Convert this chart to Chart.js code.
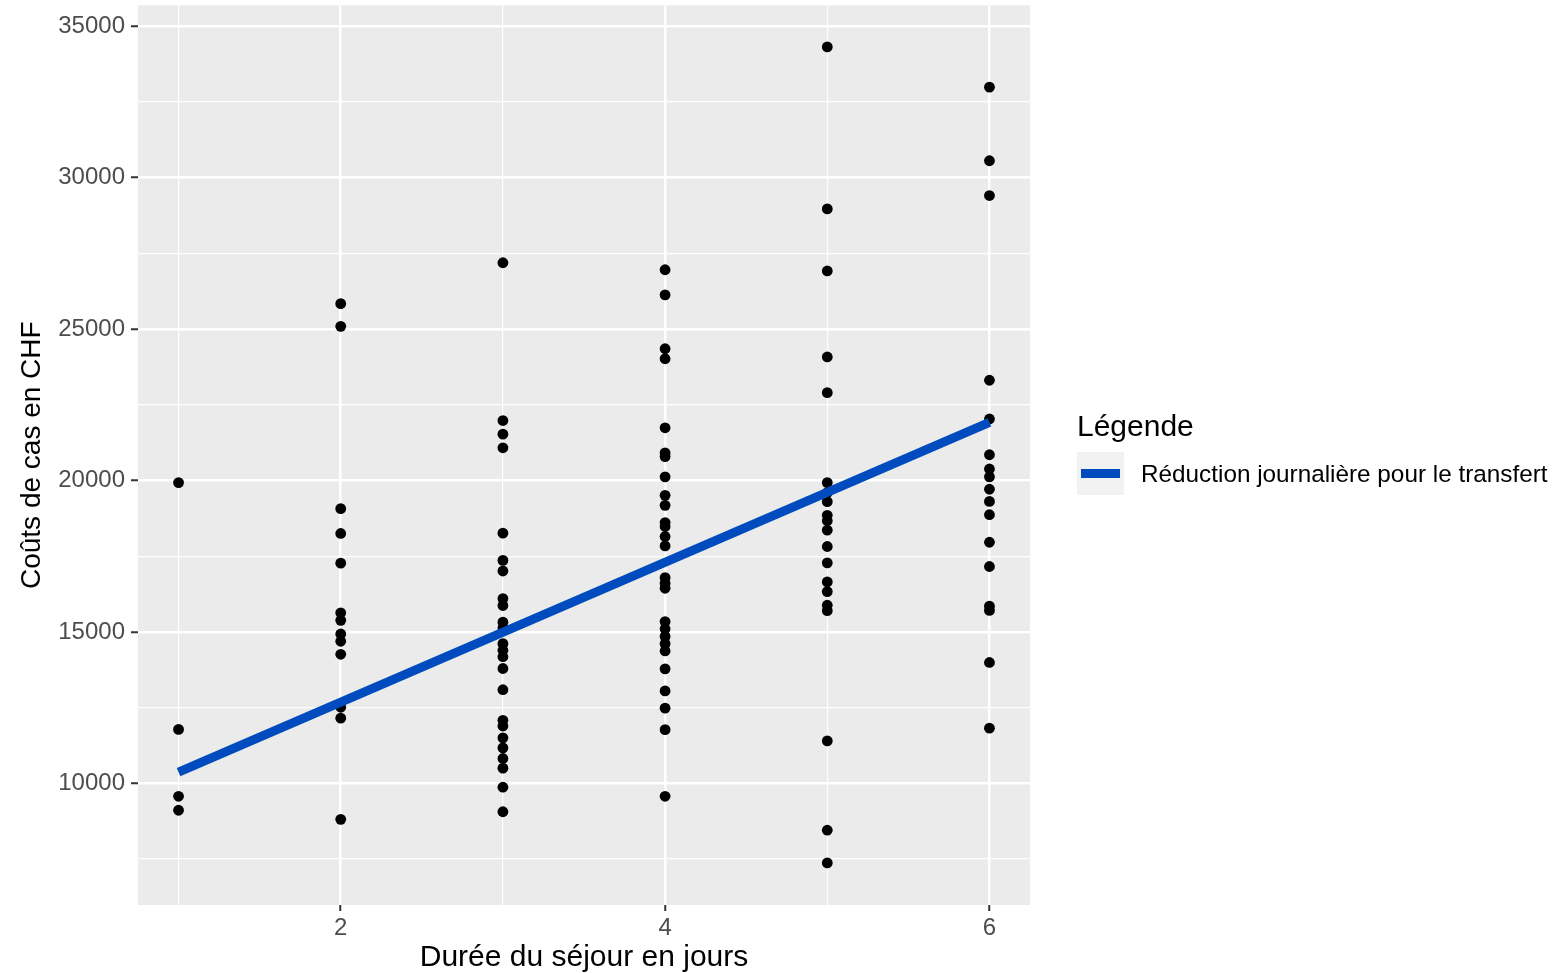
<!DOCTYPE html>
<html>
<head>
<meta charset="utf-8">
<script src="https://cdn.jsdelivr.net/npm/chart.js@4"></script>
<style>
  html, body { margin: 0; padding: 0; background: #fff; }
  #wrap { position: relative; width: 1554px; height: 973px; }
  #legend { position: absolute; left: 1077px; top: 408px; font-family: "Liberation Sans", Arial, sans-serif; color: #000; }
  #legend .title { font-size: 30px; line-height: 36px; position: absolute; left: 0; top: 0; white-space: nowrap; }
  #legend .key { position: absolute; left: 0; top: 44px; width: 47px; height: 43px; background: #f2f2f2; }
  #legend .key span { position: absolute; left: 4px; top: 17px; width: 39px; height: 9px; background: #004cbf; }
  #legend .label { position: absolute; left: 64px; top: 52px; font-size: 24.3px; line-height: 28px; white-space: nowrap; }
</style>
</head>
<body>
<div id="wrap">
  <canvas id="mycanvas" width="1554" height="973"></canvas>
  <div id="legend">
    <div class="title">Légende</div>
    <div class="key"><span></span></div>
    <div class="label">Réduction journalière pour le transfert</div>
  </div>
</div>
<script>
// coûts par durée de séjour (jours 1..6)
var durations = [1, 2, 3, 4, 5, 6];
var cost1 = [19930, 11780, 9570, 9110];
var cost2 = [25840, 25090, 19070, 18250, 17270, 15630, 15380, 14930, 14690, 14260, 12510, 12150, 8810];
var cost3 = [27190, 21980, 21530, 21080, 18260, 17360, 17010, 16100, 15870, 15320, 15130, 14610, 14390, 14180, 13790, 13090, 12080, 11890, 11500, 11170, 10820, 10500, 9870, 9060];
var cost4 = [26960, 26130, 24350, 24020, 21740, 20910, 20790, 20120, 19510, 19180, 18610, 18480, 18150, 17840, 16790, 16600, 16440, 15340, 15100, 14850, 14610, 14370, 13780, 13050, 12480, 11770, 9570];
var cost5 = [34320, 28970, 26920, 24080, 22900, 19930, 19600, 19300, 18850, 18670, 18360, 17820, 17280, 16650, 16330, 15880, 15700, 11400, 8450, 7370];
var cost6 = [32990, 30560, 29410, 23310, 22030, 20850, 20380, 20120, 19710, 19310, 18870, 17960, 17160, 15850, 15710, 13990, 11820];

// droite de réduction journalière
var lineX = [1, 6];
var lineY = [10370, 21920];

var xTicks = [1, 2, 3, 4, 5, 6];
var xLabels = [2, 4, 6];
var yTicks = [7500, 10000, 12500, 15000, 17500, 20000, 22500, 25000, 27500, 30000, 32500, 35000];
var yLabels = [10000, 15000, 20000, 25000, 30000, 35000];

var groups = [cost1, cost2, cost3, cost4, cost5, cost6];
var points = [];
for (var g in groups) {
	for (var i in groups[g]) {
		points.push({x: durations[g], y: groups[g][i]});
	}
}
var linePts = [];
for (var k in lineX) {
	linePts.push({x: lineX[k], y: lineY[k]});
}

var panelBg = {
	id: 'panelBg',
	beforeDraw: function(chart) {
		var a = chart.chartArea, c = chart.ctx;
		c.save();
		c.fillStyle = '#ebebeb';
		c.fillRect(a.left, a.top, a.right - a.left, a.bottom - a.top);
		c.restore();
	}
};

var font = "'Liberation Sans', Arial, sans-serif";

var ctx = document.getElementById('mycanvas');
var chart = new Chart(ctx, {
	type: 'scatter',
	data: {
		datasets: [
			{
				label: 'Réduction journalière pour le transfert',
				type: 'line',
				data: linePts,
				borderColor: '#004cbf',
				borderWidth: 9,
				borderCapStyle: 'butt',
				pointRadius: 0,
				fill: false,
				order: 0
			},
			{
				label: 'cas',
				data: points,
				backgroundColor: '#000',
				borderColor: '#000',
				pointRadius: 5.4,
				borderWidth: 0,
				order: 1
			}
		]
	},
	plugins: [panelBg],
	options: {
		responsive: false,
		animation: false,
		layout: { padding: { left: 0, right: 524, top: 3, bottom: 0 } },
		plugins: { legend: { display: false }, tooltip: { enabled: false } },
		scales: {
			x: {
				type: 'linear',
				min: 0.75,
				max: 6.25,
				afterBuildTicks: function(s) { s.ticks = xTicks.map(function(v){ return {value: v}; }); },
				afterFit: function(s) { s.height = 68; s.paddingLeft = 0; s.paddingRight = 0; },
				border: { display: false },
				grid: {
					color: '#fff',
					lineWidth: function(c) { return xLabels.indexOf(c.tick.value) >= 0 ? 2.5 : 1.2; },
					tickColor: function(c) { return xLabels.indexOf(c.tick.value) >= 0 ? '#333' : 'rgba(0,0,0,0)'; },
					tickLength: 6,
					tickWidth: 2
				},
				ticks: {
					autoSkip: false,
					maxRotation: 0,
					padding: 3,
					color: '#4d4d4d',
					font: { family: font, size: 24 },
					callback: function(v) { return xLabels.indexOf(v) >= 0 ? String(v) : ''; }
				},
				title: {
					display: true,
					text: 'Durée du séjour en jours',
					color: '#000',
					font: { family: font, size: 30, lineHeight: 1 },
					padding: 0
				}
			},
			y: {
				type: 'linear',
				min: 5980,
				max: 35690,
				afterBuildTicks: function(s) { s.ticks = yTicks.map(function(v){ return {value: v}; }); },
				afterFit: function(s) { s.width = 138; s.paddingTop = 0; s.paddingBottom = 0; },
				border: { display: false },
				grid: {
					color: '#fff',
					lineWidth: function(c) { return yLabels.indexOf(c.tick.value) >= 0 ? 2.5 : 1.2; },
					tickColor: function(c) { return yLabels.indexOf(c.tick.value) >= 0 ? '#333' : 'rgba(0,0,0,0)'; },
					tickLength: 7,
					tickWidth: 2
				},
				ticks: {
					autoSkip: false,
					padding: 6,
					color: '#4d4d4d',
					font: { family: font, size: 24 },
					callback: function(v) { return yLabels.indexOf(v) >= 0 ? String(v) : ''; }
				},
				title: {
					display: true,
					text: 'Coûts de cas en CHF',
					color: '#000',
					font: { family: font, size: 28, lineHeight: 1.2 },
					padding: { top: 15, bottom: 0 }
				}
			}
		}
	}
});
</script>
</body>
</html>
